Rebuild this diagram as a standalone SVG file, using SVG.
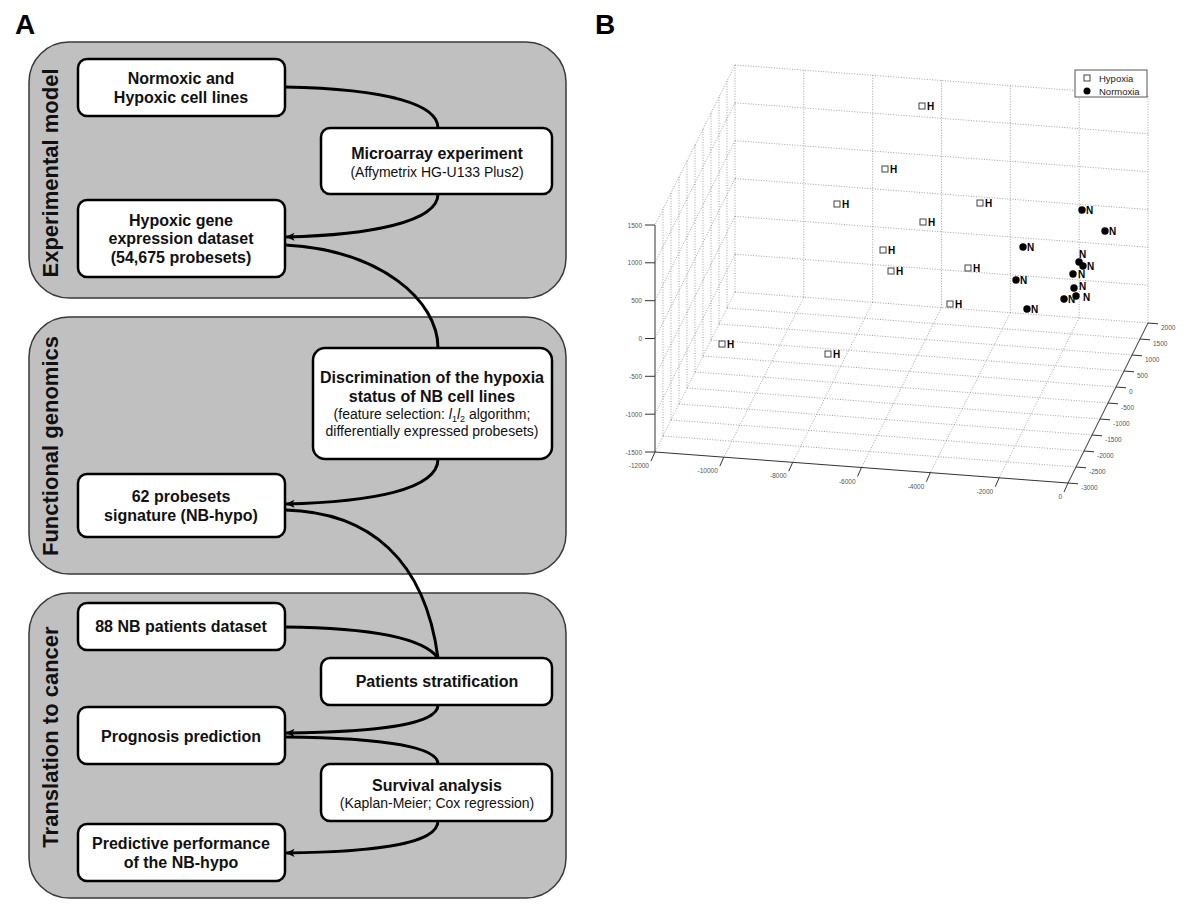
<svg xmlns="http://www.w3.org/2000/svg" width="1200" height="921" viewBox="0 0 1200 921">
<style>
.bg{fill:#fff}
.panel{fill:#c0c0c0;stroke:#3a3a3a;stroke-width:1.5}
.node{fill:#fff;stroke:#000;stroke-width:2.5}
.t{font-family:"Liberation Sans",Arial,sans-serif;font-size:16px;font-weight:bold;text-anchor:middle;fill:#111}
.s{font-size:14px;font-weight:normal}
.side{font-family:"Liberation Sans",Arial,sans-serif;font-size:22px;font-weight:bold;text-anchor:middle;fill:#111}
.big{font-family:"Liberation Sans",Arial,sans-serif;font-size:28px;font-weight:bold;fill:#000}
.conn{fill:none;stroke:#000;stroke-width:3}
.grid{fill:none;stroke:#8a8a8a;stroke-width:0.8;stroke-dasharray:1 1.6}
.axis{fill:none;stroke:#333;stroke-width:1}
.tk{font-family:"Liberation Sans",Arial,sans-serif;font-size:6.5px;fill:#555}
.tkr{text-anchor:end}
.sq{fill:#fff;stroke:#444;stroke-width:1}
.dot{fill:#000}
.lab{font-family:"Liberation Sans",Arial,sans-serif;font-size:10px;font-weight:bold;fill:#000}
.leg{font-family:"Liberation Sans",Arial,sans-serif;font-size:9.5px;fill:#222}
</style>
<defs>
<marker id="arr" viewBox="0 0 10 10" refX="9.5" refY="5" markerWidth="11" markerHeight="9" markerUnits="userSpaceOnUse" orient="auto">
<path d="M0,0.5 L10,5 L0,9.5 L2.5,5 z" fill="#000"/>
</marker>
</defs>
<rect class="bg" x="0" y="0" width="1200" height="921"/>

<text class="big" x="15" y="34">A</text>
<text class="big" x="595" y="34">B</text>

<g id="panel-experimental">
<rect class="panel" x="29" y="42" width="537" height="256" rx="40"/>
<text class="side" transform="translate(58,173) rotate(-90)">Experimental model</text>
</g>
<g id="panel-functional">
<rect class="panel" x="29" y="317" width="537" height="257" rx="40"/>
<text class="side" transform="translate(58,446) rotate(-90)">Functional genomics</text>
</g>
<g id="panel-translation">
<rect class="panel" x="29" y="593" width="537" height="305" rx="40"/>
<text class="side" transform="translate(58,737) rotate(-90)">Translation to cancer</text>
</g>

<g id="connectors">
<path class="conn" d="M285,87 C390,89 438,105 438,128"/>
<path class="conn" d="M438,194 C438,222 370,235 286,237" marker-end="url(#arr)"/>
<path class="conn" d="M285,245 C380,250 438,300 438,348"/>
<path class="conn" d="M438,459 C438,490 370,502 286,504" marker-end="url(#arr)"/>
<path class="conn" d="M285,510 C370,512 425,560 438,658"/>
<path class="conn" d="M285,627 C380,628 425,640 438,658"/>
<path class="conn" d="M438,705 C438,726 370,732 286,733" marker-end="url(#arr)"/>
<path class="conn" d="M285,737 C390,738 438,748 438,764"/>
<path class="conn" d="M438,821 C438,845 370,852 286,853" marker-end="url(#arr)"/>
</g>

<g id="n-normoxic">
<rect class="node" x="78" y="59" width="207" height="57" rx="9"/>
<text class="t" x="181" y="84">Normoxic and</text>
<text class="t" x="181" y="103">Hypoxic cell lines</text>
</g>
<g id="n-microarray">
<rect class="node" x="321" y="128" width="231" height="66" rx="9"/>
<text class="t" x="437" y="159">Microarray experiment</text>
<text class="t s" x="437" y="177">(Affymetrix HG-U133 Plus2)</text>
</g>
<g id="n-hypoxic-dataset">
<rect class="node" x="78" y="200" width="207" height="77" rx="9"/>
<text class="t" x="181" y="226">Hypoxic gene</text>
<text class="t" x="181" y="244">expression dataset</text>
<text class="t" x="181" y="263">(54,675 probesets)</text>
</g>
<g id="n-discrimination">
<rect class="node" x="313" y="348" width="239" height="111" rx="12"/>
<text class="t" x="432" y="383">Discrimination of the hypoxia</text>
<text class="t" x="432" y="402">status of NB cell lines</text>
<text class="t s" x="432" y="419">(feature selection: <tspan font-style="italic">l</tspan><tspan font-size="9" dy="3">1</tspan><tspan font-style="italic" dy="-3">l</tspan><tspan font-size="9" dy="3">2</tspan><tspan dy="-3"> algorithm;</tspan></text>
<text class="t s" x="432" y="436">differentially expressed probesets)</text>
</g>
<g id="n-signature">
<rect class="node" x="78" y="474" width="207" height="63" rx="9"/>
<text class="t" x="181" y="502">62 probesets</text>
<text class="t" x="181" y="521">signature (NB-hypo)</text>
</g>
<g id="n-patients-dataset">
<rect class="node" x="78" y="603" width="207" height="47" rx="9"/>
<text class="t" x="181" y="632">88 NB patients dataset</text>
</g>
<g id="n-stratification">
<rect class="node" x="321" y="658" width="231" height="47" rx="9"/>
<text class="t" x="437" y="687">Patients stratification</text>
</g>
<g id="n-prognosis">
<rect class="node" x="78" y="707" width="207" height="57" rx="9"/>
<text class="t" x="181" y="742">Prognosis prediction</text>
</g>
<g id="n-survival">
<rect class="node" x="321" y="764" width="231" height="57" rx="9"/>
<text class="t" x="437" y="791">Survival analysis</text>
<text class="t s" x="437" y="808">(Kaplan-Meier; Cox regression)</text>
</g>
<g id="n-performance">
<rect class="node" x="78" y="824" width="207" height="57" rx="9"/>
<text class="t" x="181" y="849">Predictive performance</text>
<text class="t" x="181" y="868">of the NB-hypo</text>
</g>

<g id="plot3d">
<g id="grid">
<path class="grid" d="M735,65V292 M803.8,70.2V297.2 M872.7,75.3V302.3 M941.5,80.5V307.5 M1010.3,85.7V312.7 M1079.2,90.8V317.8 M1148,96V323"/>
<path class="grid" d="M735,254.2L1148,285.2 M735,216.3L1148,247.3 M735,178.5L1148,209.5 M735,140.7L1148,171.7 M735,102.8L1148,133.8 M735,65L1148,96"/>
<path class="grid" d="M727,81V308 M719,97V324 M711,113V340 M703,129V356 M695,145V372 M687,161V388 M679,177V404 M671,193V420 M663,209V436"/>
<path class="grid" d="M735,254.2L655,414.2 M735,216.3L655,376.3 M735,178.5L655,338.5 M735,140.7L655,300.7 M735,102.8L655,262.8 M735,65L655,225 M735,292L655,452"/>
<path class="grid" d="M803.8,297.2L723.8,457.2 M872.7,302.3L792.7,462.3 M941.5,307.5L861.5,467.5 M1010.3,312.7L930.3,472.7 M1079.2,317.8L999.2,477.8"/>
<path class="grid" d="M735,292L1148,323 M727,308L1140,339 M719,324L1132,355 M711,340L1124,371 M703,356L1116,387 M695,372L1108,403 M687,388L1100,419 M679,404L1092,435 M671,420L1084,451 M663,436L1076,467"/>
</g>
<g id="axes">
<path class="axis" d="M655,225V452 L1068,483 L1148,323"/>
<path class="axis" d="M645,225H655 M645,262.8H655 M645,300.7H655 M645,338.5H655 M645,376.3H655 M645,414.2H655 M645,452H655"/>
<path class="axis" d="M655,452l-4,9 M723.8,457.2l-4,9 M792.7,462.3l-4,9 M861.5,467.5l-4,9 M930.3,472.7l-4,9 M999.2,477.8l-4,9 M1068,483l-4,9"/>
<path class="axis" d="M1148,323l10,0.8 M1140,339l10,0.8 M1132,355l10,0.8 M1124,371l10,0.8 M1116,387l10,0.8 M1108,403l10,0.8 M1100,419l10,0.8 M1092,435l10,0.8 M1084,451l10,0.8 M1076,467l10,0.8 M1068,483l10,0.8"/>
<g class="tk tkr">
<text x="642" y="227.5">1500</text>
<text x="642" y="265.3">1000</text>
<text x="642" y="303.2">500</text>
<text x="642" y="341">0</text>
<text x="642" y="378.8">-500</text>
<text x="642" y="416.7">-1000</text>
<text x="642" y="454.5">-1500</text>
<text x="649" y="468">-12000</text>
<text x="717.8" y="473.2">-10000</text>
<text x="786.7" y="478.3">-8000</text>
<text x="855.5" y="483.5">-6000</text>
<text x="924.3" y="488.7">-4000</text>
<text x="993.2" y="493.8">-2000</text>
<text x="1062" y="499">0</text>
</g>
<g class="tk">
<text x="1161" y="330">2000</text>
<text x="1153" y="346">1500</text>
<text x="1145" y="362">1000</text>
<text x="1137" y="378">500</text>
<text x="1129" y="394">0</text>
<text x="1121" y="410">-500</text>
<text x="1113" y="426">-1000</text>
<text x="1105" y="442">-1500</text>
<text x="1097" y="458">-2000</text>
<text x="1089" y="474">-2500</text>
<text x="1081" y="490">-3000</text>
</g>
</g>
<g id="hypoxia-points">
<rect class="sq" x="919" y="103" width="6" height="6"/><text class="lab" x="927" y="110">H</text>
<rect class="sq" x="882" y="166" width="6" height="6"/><text class="lab" x="890" y="173">H</text>
<rect class="sq" x="834" y="201" width="6" height="6"/><text class="lab" x="842" y="208">H</text>
<rect class="sq" x="977" y="200" width="6" height="6"/><text class="lab" x="985" y="207">H</text>
<rect class="sq" x="920" y="219" width="6" height="6"/><text class="lab" x="928" y="226">H</text>
<rect class="sq" x="880" y="247" width="6" height="6"/><text class="lab" x="888" y="254">H</text>
<rect class="sq" x="888" y="268" width="6" height="6"/><text class="lab" x="896" y="275">H</text>
<rect class="sq" x="965" y="265" width="6" height="6"/><text class="lab" x="973" y="272">H</text>
<rect class="sq" x="947" y="301" width="6" height="6"/><text class="lab" x="955" y="308">H</text>
<rect class="sq" x="719" y="341" width="6" height="6"/><text class="lab" x="727" y="348">H</text>
<rect class="sq" x="825" y="351" width="6" height="6"/><text class="lab" x="833" y="358">H</text>
</g>
<g id="normoxia-points">
<circle class="dot" cx="1082" cy="210" r="3.7"/><text class="lab" x="1086" y="214">N</text>
<circle class="dot" cx="1105" cy="231" r="3.7"/><text class="lab" x="1109" y="235">N</text>
<circle class="dot" cx="1023" cy="247" r="3.7"/><text class="lab" x="1027" y="251">N</text>
<text class="lab" x="1079" y="258">N</text>
<circle class="dot" cx="1079" cy="262" r="3.7"/>
<circle class="dot" cx="1083" cy="266" r="3.7"/><text class="lab" x="1087" y="270">N</text>
<circle class="dot" cx="1073" cy="274" r="3.7"/><text class="lab" x="1078" y="278">N</text>
<circle class="dot" cx="1016" cy="280" r="3.7"/><text class="lab" x="1020" y="284">N</text>
<circle class="dot" cx="1074" cy="288" r="3.7"/><text class="lab" x="1079" y="290">N</text>
<circle class="dot" cx="1064" cy="299" r="3.7"/><text class="lab" x="1068" y="303">N</text>
<circle class="dot" cx="1076" cy="296" r="3.7"/><text class="lab" x="1083" y="301">N</text>
<circle class="dot" cx="1027" cy="309" r="3.7"/><text class="lab" x="1031" y="313">N</text>
</g>
<g id="legend">
<rect x="1075" y="70" width="72" height="27" fill="#fff" stroke="#555" stroke-width="1"/>
<rect class="sq" x="1084" y="75" width="6" height="6"/>
<text class="leg" x="1099" y="82">Hypoxia</text>
<circle class="dot" cx="1087" cy="91" r="3.5"/>
<text class="leg" x="1099" y="95">Normoxia</text>
</g>
</g>
</svg>
